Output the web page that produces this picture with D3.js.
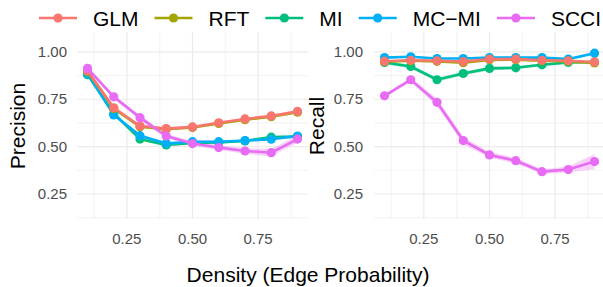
<html>
  <head>
    <meta charset="utf-8" />
    <script src="https://d3js.org/d3.v7.min.js"></script>
    <style>
      body { margin: 0; background: white; }
      text { font-family: "Liberation Sans", Arial, sans-serif; }
    </style>
    <script>
      // donnees
      let densite = [0.1, 0.2, 0.3, 0.4, 0.5, 0.6, 0.7, 0.8, 0.9];
      let methodes = ["GLM", "RFT", "MI", "MC\u2212MI", "SCCI"];
      let couleurs = ["#F8766D", "#A3A500", "#00BF7D", "#00B0F6", "#E76BF3"];
      let ordreDessin = [2, 3, 1, 0, 4]; // MI, MC-MI, RFT, GLM, SCCI

      let precisionGLM  = [0.900, 0.705, 0.609, 0.595, 0.604, 0.626, 0.646, 0.662, 0.686];
      let precisionRFT  = [0.897, 0.701, 0.605, 0.592, 0.601, 0.622, 0.642, 0.658, 0.682];
      let precisionMI   = [0.880, 0.675, 0.540, 0.509, 0.520, 0.522, 0.530, 0.550, 0.553];
      let precisionMCMI = [0.886, 0.667, 0.558, 0.516, 0.526, 0.526, 0.532, 0.539, 0.556];
      let precisionSCCI = [0.913, 0.763, 0.653, 0.556, 0.516, 0.495, 0.477, 0.468, 0.540];

      let rappelGLM  = [0.951, 0.956, 0.953, 0.949, 0.962, 0.962, 0.956, 0.953, 0.947];
      let rappelRFT  = [0.948, 0.953, 0.950, 0.943, 0.958, 0.959, 0.953, 0.950, 0.942];
      let rappelMI   = [0.944, 0.923, 0.853, 0.886, 0.913, 0.916, 0.932, 0.944, 0.947];
      let rappelMCMI = [0.970, 0.974, 0.965, 0.965, 0.970, 0.970, 0.970, 0.962, 0.993];
      let rappelSCCI = [0.768, 0.853, 0.734, 0.532, 0.456, 0.426, 0.368, 0.379, 0.421];

      // demi-largeurs des intervalles (ruban)
      let ecartPrecision = [
        [0.006, 0.006, 0.006, 0.006, 0.006, 0.006, 0.006, 0.006, 0.006],
        [0.006, 0.006, 0.006, 0.006, 0.006, 0.006, 0.006, 0.006, 0.006],
        [0.006, 0.008, 0.008, 0.008, 0.006, 0.006, 0.006, 0.006, 0.006],
        [0.006, 0.008, 0.008, 0.008, 0.006, 0.006, 0.006, 0.006, 0.006],
        [0.010, 0.010, 0.012, 0.012, 0.012, 0.013, 0.015, 0.020, 0.020]
      ];
      let ecartRappel = [
        [0.005, 0.005, 0.005, 0.005, 0.005, 0.005, 0.005, 0.005, 0.005],
        [0.005, 0.005, 0.005, 0.005, 0.005, 0.005, 0.005, 0.005, 0.005],
        [0.008, 0.010, 0.010, 0.010, 0.010, 0.008, 0.008, 0.006, 0.006],
        [0.004, 0.004, 0.004, 0.004, 0.004, 0.004, 0.004, 0.004, 0.006],
        [0.010, 0.012, 0.020, 0.020, 0.015, 0.015, 0.012, 0.016, 0.040]
      ];

      let ticksMajeurs = [0.25, 0.50, 0.75];
      let ticksMineursX = [0.125, 0.375, 0.625, 0.875];
      let ticksMajeursY = [0.25, 0.50, 0.75, 1.00];
      let ticksMineursY = [0.125, 0.375, 0.625, 0.875];

      function panneau(svg, x0, valeurs, ecarts, titre, titreX, labelX) {
        let haut = 32, bas = 219, largeur = 231;
        let x = d3.scaleLinear().domain([0.06, 0.94]).range([x0, x0 + largeur]);
        let y = d3.scaleLinear().domain([0.118, 1.105]).range([bas, haut]);
        let g = svg.append("g");

        // grille
        g.selectAll(".vmin").data(ticksMineursX).enter().append("line")
          .attr("x1", d => x(d)).attr("x2", d => x(d)).attr("y1", haut).attr("y2", bas)
          .attr("stroke", "#ebebeb").attr("stroke-width", 0.6);
        g.selectAll(".hmin").data(ticksMineursY).enter().append("line")
          .attr("x1", x0).attr("x2", x0 + largeur).attr("y1", d => y(d)).attr("y2", d => y(d))
          .attr("stroke", "#ebebeb").attr("stroke-width", 0.6);
        g.selectAll(".vmaj").data(ticksMajeurs).enter().append("line")
          .attr("x1", d => x(d)).attr("x2", d => x(d)).attr("y1", haut).attr("y2", bas)
          .attr("stroke", "#ebebeb").attr("stroke-width", 1.2);
        g.selectAll(".hmaj").data(ticksMajeursY).enter().append("line")
          .attr("x1", x0).attr("x2", x0 + largeur).attr("y1", d => y(d)).attr("y2", d => y(d))
          .attr("stroke", "#ebebeb").attr("stroke-width", 1.2);

        // etiquettes des axes
        g.selectAll(".lx").data(ticksMajeurs).enter().append("text")
          .attr("x", d => x(d)).attr("y", 244).attr("text-anchor", "middle")
          .attr("font-size", 15).attr("fill", "#4d4d4d").text(d => d.toFixed(2));
        g.selectAll(".ly").data(ticksMajeursY).enter().append("text")
          .attr("x", labelX).attr("y", d => y(d) + 5).attr("text-anchor", "end")
          .attr("font-size", 15).attr("fill", "#4d4d4d").text(d => d.toFixed(2));
        g.append("text")
          .attr("transform", "translate(" + titreX + ",126) rotate(-90)")
          .attr("text-anchor", "middle").attr("font-size", 21).attr("fill", "black")
          .text(titre);

        let ruban = d3.area().x((d, i) => x(densite[i]))
          .y0(d => y(d[0])).y1(d => y(d[1]));
        let ligne = d3.line().x((d, i) => x(densite[i])).y(d => y(d));

        for (let k of ordreDessin) {
          let bornes = valeurs[k].map((v, i) => [v - ecarts[k][i], v + ecarts[k][i]]);
          g.append("path").attr("d", ruban(bornes))
            .attr("fill", couleurs[k]).attr("opacity", 0.3);
        }
        for (let k of ordreDessin) {
          g.append("path").attr("d", ligne(valeurs[k]))
            .attr("fill", "none").attr("stroke", couleurs[k]).attr("stroke-width", 2.6);
          g.selectAll(".p" + k).data(valeurs[k]).enter().append("circle")
            .attr("cx", (d, i) => x(densite[i])).attr("cy", d => y(d)).attr("r", 4.6)
            .attr("fill", couleurs[k]);
        }
      }

      function dessine() {
        let svg = d3.select("#graphe").append("svg")
          .attr("width", 603).attr("height", 287);

        panneau(svg, 77,
          [precisionGLM, precisionRFT, precisionMI, precisionMCMI, precisionSCCI],
          ecartPrecision, "Precision", 25, 67);
        panneau(svg, 374,
          [rappelGLM, rappelRFT, rappelMI, rappelMCMI, rappelSCCI],
          ecartRappel, "Recall", 324, 363);

        svg.append("text").attr("x", 308).attr("y", 282).attr("text-anchor", "middle")
          .attr("font-size", 21).attr("fill", "black").text("Density (Edge Probability)");

        // legende en haut
        let posX = 39;
        for (let k = 0; k < methodes.length; k++) {
          let cle = svg.append("g");
          cle.append("line").attr("x1", posX).attr("x2", posX + 38).attr("y1", 18).attr("y2", 18)
            .attr("stroke", couleurs[k]).attr("stroke-width", 2.6);
          cle.append("circle").attr("cx", posX + 19).attr("cy", 18).attr("r", 4.6)
            .attr("fill", couleurs[k]);
          let t = cle.append("text").attr("x", posX + 54).attr("y", 25.5)
            .attr("font-size", 21).attr("fill", "black").text(methodes[k]);
          posX += 54 + t.node().getComputedTextLength() + 16;
        }
      }
    </script>
  </head>
  <body onLoad="dessine()">
    <div id="graphe"></div>
  </body>
</html>
